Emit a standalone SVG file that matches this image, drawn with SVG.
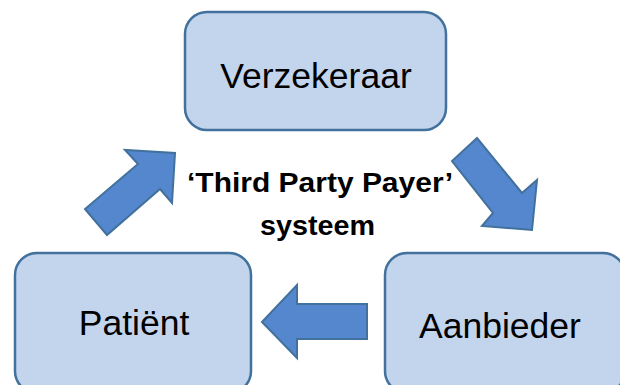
<svg xmlns="http://www.w3.org/2000/svg" width="620" height="385" viewBox="0 0 620 385">
<style>
.box{fill:#C3D4ED;stroke:#41719C;stroke-width:2.5}
.lbl{font-family:"Liberation Sans",Arial,sans-serif;font-size:35.5px;fill:#000;text-anchor:middle}
.arrow{fill:#5587CE;stroke:#41719C;stroke-width:2;stroke-linejoin:miter}
.mid{font-family:"Liberation Sans",Arial,sans-serif;font-size:27px;font-weight:bold;fill:#000;text-anchor:middle}
</style>
<rect width="620" height="385" fill="#fff"/>
<g id="verzekeraar">
<rect class="box" x="185" y="12" width="261" height="118" rx="22"/>
<text class="lbl" x="316" y="88">Verzekeraar</text>
</g>
<g id="patient">
<rect class="box" x="15" y="253" width="236" height="140" rx="22"/>
<text class="lbl" x="134" y="335">Patiënt</text>
</g>
<g id="aanbieder">
<rect class="box" x="385" y="253" width="240" height="140" rx="22"/>
<text class="lbl" x="500" y="338">Aanbieder</text>
</g>
<g id="connectors">
<polygon class="arrow" points="85,209 107,235 160,189 172,203 175,153 125,150 138,164"/>
<polygon class="arrow" points="477,138 452,161 493,213 482,226 532,230 537,180 522,193"/>
<polygon class="arrow" points="262,322 297,285 297,304 367,304 367,339 297,339 297,358"/>
</g>
<g id="center-label">
<text class="mid" x="320" y="192" textLength="266" lengthAdjust="spacingAndGlyphs">‘Third Party Payer’</text>
<text class="mid" x="317.5" y="235" textLength="115" lengthAdjust="spacingAndGlyphs">systeem</text>
</g>
</svg>
